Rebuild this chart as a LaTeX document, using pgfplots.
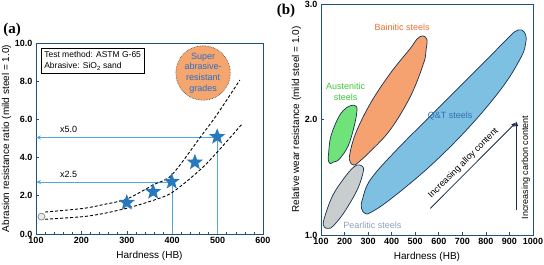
\documentclass[border=0pt]{standalone}
\usepackage{fontspec}
\setmainfont{Liberation Sans}
\newfontfamily\seriffont{Liberation Serif}
\usepackage{pgfplots}
\pgfplotsset{compat=1.18}
\usetikzlibrary{arrows.meta}

\definecolor{axisblue}{RGB}{30,80,130}
\definecolor{guideblue}{RGB}{85,165,220}
\definecolor{starblue}{RGB}{40,120,190}
\definecolor{circorange}{RGB}{245,165,110}
\definecolor{superblue}{RGB}{40,110,200}
\definecolor{navy}{RGB}{25,45,80}
\definecolor{austfill}{RGB}{112,226,122}
\definecolor{bainfill}{RGB}{245,162,112}
\definecolor{pearlfill}{RGB}{200,205,205}
\definecolor{qtfill}{RGB}{125,192,226}
\definecolor{austtext}{RGB}{60,200,60}
\definecolor{baintext}{RGB}{240,110,50}
\definecolor{qttext}{RGB}{50,110,180}
\definecolor{pearltext}{RGB}{140,160,185}

% filled five-pointed star
\pgfdeclareplotmark{fstar}{%
  \pgfpathmoveto{\pgfpointpolar{90}{\pgfplotmarksize}}%
  \pgfpathlineto{\pgfpointpolar{126}{0.42\pgfplotmarksize}}%
  \pgfpathlineto{\pgfpointpolar{162}{\pgfplotmarksize}}%
  \pgfpathlineto{\pgfpointpolar{198}{0.42\pgfplotmarksize}}%
  \pgfpathlineto{\pgfpointpolar{234}{\pgfplotmarksize}}%
  \pgfpathlineto{\pgfpointpolar{270}{0.42\pgfplotmarksize}}%
  \pgfpathlineto{\pgfpointpolar{306}{\pgfplotmarksize}}%
  \pgfpathlineto{\pgfpointpolar{342}{0.42\pgfplotmarksize}}%
  \pgfpathlineto{\pgfpointpolar{18}{\pgfplotmarksize}}%
  \pgfpathlineto{\pgfpointpolar{54}{0.42\pgfplotmarksize}}%
  \pgfpathclose
  \pgfusepathqfill
}

\pgfplotsset{
  panel/.style={
    anchor=south west, scale only axis,
    tick pos=left,
    axis line style={axisblue, line width=0.8pt},
    major tick style={axisblue, line width=0.6pt},
    minor tick style={axisblue, line width=0.5pt},
    major tick length=3pt, minor tick length=2pt,
    ticklabel style={font=\bfseries\fontsize{9}{10}\selectfont},
    /pgf/number format/assume math mode=true,
    /pgf/number format/1000 sep={},
    yticklabel style={/pgf/number format/.cd, fixed, fixed zerofill, precision=1},
    label style={font=\fontsize{10}{12}\selectfont},
    xlabel={Hardness (HB)},
  },
  blob/.style={draw=navy, line width=0.7pt, smooth cycle, tension=0.6},
}

\begin{document}
\begin{tikzpicture}
\path[use as bounding box] (0,0) rectangle (544pt,265pt);

\node[font=\seriffont\bfseries\fontsize{15}{15}\selectfont] at (12pt,235pt) {(a)};
\node[font=\seriffont\bfseries\fontsize{15}{15}\selectfont] at (286pt,254pt) {(b)};

% ---------------- panel (a)
\begin{axis}[panel,
  at={(36pt,31pt)}, width=227pt, height=191pt,
  xmin=100, xmax=600, ymin=0, ymax=10,
  xtick={100,200,...,600}, minor x tick num=4,
  ytick={0,2,...,10},
  ylabel={Abrasion resistance ratio (mild steel = 1.0)},
  ylabel style={yshift=-3pt},
  clip=false,
]
% guide lines
\addplot[guideblue, line width=0.8pt, -{Stealth[length=5pt,width=4pt]}] coordinates {(500,5.05)(100,5.05)};
\addplot[guideblue, line width=0.8pt] coordinates {(500,5.05)(500,0)};
\addplot[guideblue, line width=0.8pt, -{Stealth[length=5pt,width=4pt]}] coordinates {(400,2.72)(100,2.72)};
\addplot[guideblue, line width=0.8pt] coordinates {(400,2.72)(400,0)};
\node[anchor=south, font=\fontsize{9}{10}\selectfont] at (axis cs:172,5.1) {x5.0};
\node[anchor=south, font=\fontsize{9}{10}\selectfont] at (axis cs:172,2.77) {x2.5};

% scatter band
\addplot[black, line width=0.9pt, dash pattern=on 3pt off 2pt, smooth] coordinates {
  (120,1.15)(204,1.34)(250,1.55)(300,1.83)(358,2.57)(399,3.09)(461,5.04)(498,6.23)(549,8.06)};
\addplot[black, line width=0.9pt, dash pattern=on 3pt off 2pt, smooth] coordinates {
  (120,0.77)(204,0.91)(250,1.08)(300,1.35)(350,1.70)(399,2.16)(461,3.35)(500,4.31)(555,5.79)};

% mild steel reference
\addplot[only marks, mark=*, mark size=3.5pt, mark options={fill=black!8, draw=black!55, line width=0.6pt}]
  coordinates {(112,0.91)};
% abrasion resistant grades
\addplot[only marks, mark=fstar, mark size=8.5pt, starblue] coordinates {
  (300,1.64)(358,2.21)(399,2.74)(450,3.75)(499,5.09)};

\node[draw=black, line width=0.6pt, anchor=north west, align=left, inner sep=3pt,
  font=\fontsize{8.5}{11}\selectfont] at (rel axis cs:0.022,0.972)
  {Test method: ASTM G-65\\Abrasive: SiO\textsubscript{2} sand};
\node[circle, fill=circorange, draw=black!75, densely dotted, line width=0.6pt,
  minimum size=54pt, inner sep=0pt, align=center, text=superblue,
  font=\fontsize{9}{10.7}\selectfont] at (axis cs:468,8.43)
  {Super\\abrasive-\\resistant\\grades};
\end{axis}

% ---------------- panel (b)
\begin{axis}[panel,
  at={(321pt,30pt)}, width=212pt, height=231pt,
  xmin=100, xmax=1000, ymin=1, ymax=3,
  xtick={100,200,...,1000},
  ytick={1,2,3},
  ylabel={Relative wear resistance (mild steel = 1.0)},
  ylabel style={yshift=-3pt},
]
% Q&T steels
\addplot[blob, fill=qtfill] coordinates {
  (923,2.761)(951,2.776)(969,2.733)(969,2.661)(951,2.546)(873,2.287)(733,1.943)
  (564,1.598)(395,1.310)(311,1.195)(287,1.187)(272,1.230)(276,1.310)(311,1.483)
  (423,1.741)(592,2.086)(761,2.431)(887,2.690)};
% Pearlitic steels
\addplot[blob, fill=pearlfill] coordinates {
  (257,1.606)(273,1.598)(280,1.555)(255,1.397)(198,1.195)(150,1.075)(130,1.058)
  (114,1.070)(112,1.130)(149,1.339)(205,1.511)(240,1.590)};
% Bainitic steels
\addplot[blob, fill=bainfill] coordinates {
  (508,2.698)(533,2.724)(550,2.690)(546,2.603)(536,2.489)(480,2.201)(395,1.914)
  (311,1.727)(257,1.626)(238,1.606)(224,1.632)(222,1.698)(248,1.885)(311,2.144)
  (395,2.402)(480,2.618)};
% Austenitic steels
\addplot[blob, fill=austfill] coordinates {
  (227,2.121)(243,2.121)(253,2.086)(241,1.943)(215,1.770)(177,1.655)(153,1.632)
  (139,1.618)(131,1.649)(132,1.700)(142,1.856)(177,2.029)(210,2.105)};

\node[text=baintext, font=\fontsize{9}{10}\selectfont] at (axis cs:444,2.80) {Bainitic steels};
\node[text=austtext, align=center, font=\fontsize{9}{10.7}\selectfont] at (axis cs:205,2.24) {Austenitic\\steels};
\node[text=qttext, font=\fontsize{9}{10}\selectfont] at (axis cs:648,2.03) {Q\&T steels};
\node[text=pearltext, font=\fontsize{9}{10}\selectfont] at (axis cs:318,1.086) {Pearlitic steels};

\addplot[navy, line width=0.8pt, -{Latex[length=5pt,width=4pt]}] coordinates {(564,1.23)(929,1.977)};
\addplot[navy, line width=0.8pt, -{Latex[length=5pt,width=4pt]}] coordinates {(930,1.22)(930,1.985)};
\node[rotate=45, font=\fontsize{9}{10}\selectfont] at (axis cs:705,1.62) {Increasing alloy content};
\node[rotate=90, font=\fontsize{9}{10}\selectfont] at (axis cs:969,1.583) {Increasing carbon content};
\end{axis}
\end{tikzpicture}
\end{document}
